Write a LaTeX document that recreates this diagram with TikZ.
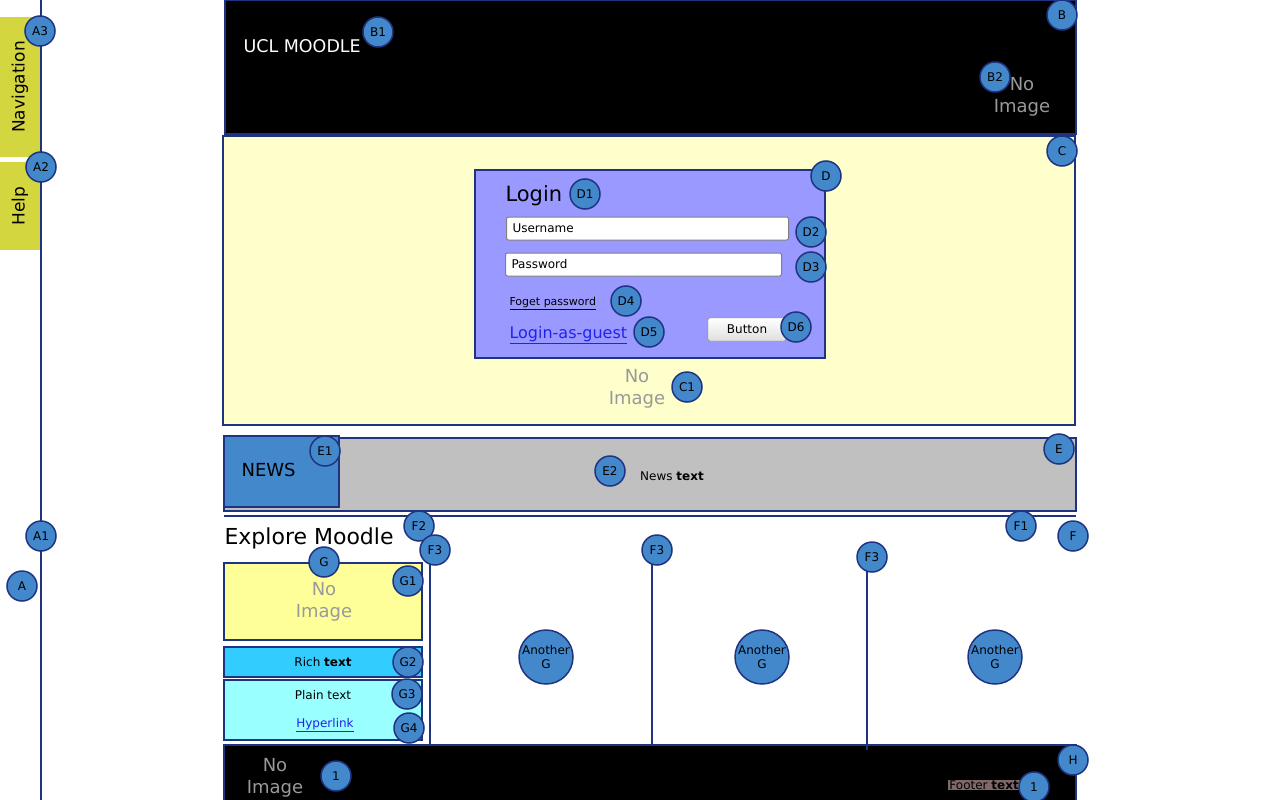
\documentclass[tikz,border=0pt]{standalone}
\usepackage{fontspec}
\setmainfont{DejaVu Sans}

\definecolor{navy}{RGB}{31,52,128}
\definecolor{ball}{RGB}{68,136,204}
\definecolor{tabgreen}{RGB}{212,214,64}
\definecolor{cream}{RGB}{255,255,204}
\definecolor{lilac}{RGB}{153,153,255}
\definecolor{newsgray}{RGB}{192,192,192}
\definecolor{pale}{RGB}{255,255,153}
\definecolor{sky}{RGB}{51,204,255}
\definecolor{aqua}{RGB}{153,255,255}
\definecolor{dim}{RGB}{153,153,153}
\definecolor{footbg}{RGB}{128,104,104}
\definecolor{linkblue}{RGB}{34,34,238}

\begin{document}
\begin{tikzpicture}
  [x=1pt,y=-1pt,every node/.style={font=\fontsize{12}{14}\selectfont},
   box/.style={draw=navy,line width=2pt,inner sep=0pt,outer sep=0pt,anchor=north west},
   badge/.style={circle,draw=navy,line width=1.5pt,fill=ball,minimum size=30pt,inner sep=0pt,font=\fontsize{12}{13}\selectfont},
   bigbadge/.style={badge,minimum size=54pt,align=center,font=\fontsize{12}{14}\selectfont},
   wire/.style={navy,line width=2pt},
   noimg/.style={text=dim,align=center,font=\fontsize{18}{22}\selectfont},
   field/.style={draw=gray,fill=white,rounded corners=2pt,line width=1pt,minimum height=23pt,inner xsep=6pt,anchor=west,align=left},
   sidetab/.style={fill=tabgreen,rotate=90,minimum height=40pt,font=\fontsize{17}{18}\selectfont}]
  \useasboundingbox (0,0) rectangle (1280,800);

  % side tabs
  \node[sidetab,minimum width=140pt] (navtab) at (20,87) {Navigation};
  \node[sidetab,minimum width=88pt] (helptab) at (20,206) {Help};

  % page blocks
  \node[box,fill=black,minimum width=851pt,minimum height=134pt] (header) at (224.5,0) {};
  \node[box,fill=cream,minimum width=852pt,minimum height=289pt] (content) at (223,136) {};
  \node[box,fill=lilac,minimum width=350pt,minimum height=188pt] (login) at (475,170) {};
  \node[box,fill=newsgray,minimum width=852pt,minimum height=73pt] (news) at (224,438) {};
  \node[box,fill=ball,minimum width=115pt,minimum height=71pt] (newsbox) at (224,436) {};
  \node[box,fill=pale,minimum width=198pt,minimum height=77pt] (gimg) at (224,563) {};
  \node[box,fill=sky,minimum width=198pt,minimum height=30pt] (rich) at (224,647) {};
  \node[box,fill=aqua,minimum width=198pt,minimum height=60pt] (plain) at (224,680) {};
  \node[box,fill=black,minimum width=852pt,minimum height=70pt] (footer) at (224,745) {};

  % texts
  \node[text=white,anchor=west,font=\fontsize{17.5}{20}\selectfont] (title) at (240,46) {UCL MOODLE};
  \node[noimg] (headimg) at (1022,97) {No\\Image};
  \node[anchor=west,font=\fontsize{21}{24}\selectfont] (logintitle) at (502,196) {Login};
  \node[field,text width=270pt] (user) at (506,228.5) {Username};
  \node[field,text width=264pt] (pass) at (505,264.5) {Password};
  \node[anchor=west,font=\fontsize{11}{13}\selectfont] (forgot) at (506,303) {\underline{Foget password}};
  \node[anchor=west,text=linkblue,font=\fontsize{16}{18}\selectfont] (guest) at (506,335) {\underline{Login-as-guest}};
  \node[draw=gray,rounded corners=2pt,top color=white,bottom color=gray!25,minimum width=78pt,minimum height=23pt] (btn) at (747,329.5) {Button};
  \node[noimg] (loginimg) at (637,389) {No\\Image};
  \node[anchor=west,font=\fontsize{18}{20}\selectfont] (newslabel) at (238,470) {NEWS};
  \node (newstext) at (672,476) {News \textbf{text}};
  \node[anchor=west,font=\fontsize{22}{24}\selectfont] (explore) at (221,538) {Explore Moodle};
  \node[noimg] (gimgtext) at (324,602) {No\\Image};
  \node (richtext) at (323,662) {Rich \textbf{text}};
  \node (plaintext) at (323,695) {Plain text};
  \node[text=linkblue] (link) at (325,725) {\underline{Hyperlink}};
  \node[noimg] (footimg) at (275,778) {No\\Image};
  \node[fill=footbg,inner sep=1pt,anchor=east] (foottext) at (1020,785) {Footer \textbf{text}};

  % lines
  \coordinate (navtop) at (41,0);
  \coordinate (navbot) at (41,800);
  \coordinate (sepl) at (224,516);
  \coordinate (sepr) at (1076,516);
  \coordinate (colA) at (430,563);
  \coordinate (colB) at (652,563);
  \coordinate (colC) at (867,570);
  \coordinate (colCend) at (867,750);
  \draw[wire] (navtop) -- (navbot);
  \draw[wire] (sepl) -- (sepr);
  \draw[wire] (colA) -- (colA |- footer.north);
  \draw[wire] (colB) -- (colB |- footer.north);
  \draw[wire] (colC) -- (colCend);

  % markers
  \foreach \nm/\x/\y/\t in {a3/40/31/A3,a2/41/167/A2,a1/41/536/A1,a/22/586/A,
      b1/378/32/B1,b/1062/15/B,b2/995/77/B2,c/1062/151/C,c1/687/387/C1,
      d/826/176/D,d1/585/194/D1,d2/811/232/D2,d3/811/267/D3,d4/626/301/D4,d5/649/332/D5,d6/796/327/D6,
      e/1059/449/E,e1/325/451/E1,e2/610/471/E2,
      f/1073/536/F,f1/1021/526/F1,f2/419/526/F2,f3a/435/550/F3,f3b/657/550/F3,f3c/872/557/F3,
      g/324/562/G,g1/408/581/G1,g2/408/662/G2,g3/407/694/G3,g4/409/728/G4,
      h/1073/760/H,one/336/776/1,onefoot/1034/787/1}
    \node[badge] (\nm) at (\x,\y) {\t};
  \foreach \nm/\x in {anotherA/546,anotherB/762,anotherC/995}
    \node[bigbadge] (\nm) at (\x,657) {Another\\G};
\end{tikzpicture}
\end{document}
